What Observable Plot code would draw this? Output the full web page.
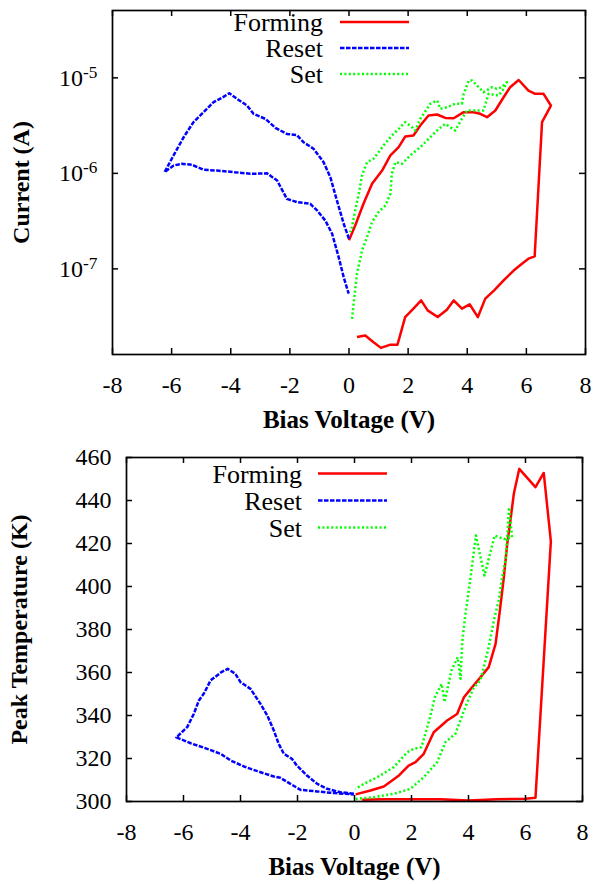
<!DOCTYPE html>
<html><head><meta charset="utf-8">
<script src="https://cdn.jsdelivr.net/npm/d3@7"></script>
<script src="https://cdn.jsdelivr.net/npm/@observablehq/plot@0.6"></script>
<style>
html,body{margin:0;padding:0;background:#fff;}
#chart{width:594px;height:884px;overflow:hidden;background:#fff;}
#chart svg{display:block;}
#chart svg, #chart svg text{font-family:"Liberation Serif","DejaVu Serif",serif !important;}
</style></head><body><div id="chart"></div>
<script>
// ---------- categories, ticks, domains ----------
const seriesNames = ["Forming", "Reset", "Set"];
const xTicks = [-8, -6, -4, -2, 0, 2, 4, 6, 8];
const currentTicks = [1e-7, 1e-6, 1e-5];
const tempTicks = [300, 320, 340, 360, 380, 400, 420, 440, 460];
const voltageDomain = [-8, 8];
const currentDomain = [1.27e-8, 5.07e-5];
const tempDomain = [300, 460];
const xLabelText = "Bias Voltage (V)";
const currentLabelText = "Current (A)";
const tempLabelText = "Peak Temperature (K)";

// ---------- top panel: current vs bias voltage ----------
const formingIV_V = [0.27, 0.55, 0.83, 1.08, 1.40, 1.64, 1.90, 2.18, 2.44, 2.66, 3.00, 3.31, 3.54, 3.82, 4.08, 4.36, 4.61, 4.91, 5.23, 5.57, 5.85, 6.07, 6.28, 6.53, 6.83, 6.58, 6.30, 6.07, 5.74, 5.45, 5.23, 4.95, 4.67, 4.44, 4.21, 3.88, 3.54, 3.26, 2.98, 2.69, 2.41, 2.18, 1.90, 1.68, 1.40, 1.12, 0.78, 0.49, 0.21, 0.00];
const formingIV_I = [1.94e-8, 2.01e-8, 1.71e-8, 1.49e-8, 1.61e-8, 1.61e-8, 3.13e-8, 3.84e-8, 4.68e-8, 3.68e-8, 3.13e-8, 3.74e-8, 4.68e-8, 3.84e-8, 4.26e-8, 3.13e-8, 4.88e-8, 5.96e-8, 7.59e-8, 9.6e-8, 1.13e-7, 1.28e-7, 1.35e-7, 3.44e-6, 5.13e-6, 6.8e-6, 6.8e-6, 7.36e-6, 9.5e-6, 7.98e-6, 6.27e-6, 4.55e-6, 3.87e-6, 4.2e-6, 4.37e-6, 4.37e-6, 3.78e-6, 3.81e-6, 4.13e-6, 4.04e-6, 3.17e-6, 2.49e-6, 2.43e-6, 1.88e-6, 1.54e-6, 1.07e-6, 7.8e-7, 4.8e-7, 2.85e-7, 1.99e-7];

const resetIV_V = [0.00, -0.18, -0.41, -0.63, -0.86, -1.20, -1.54, -1.76, -2.10, -2.49, -2.83, -3.23, -3.45, -3.79, -4.05, -4.30, -4.58, -4.92, -5.26, -5.59, -5.93, -6.24, -5.93, -5.65, -5.31, -4.92, -4.46, -3.90, -3.34, -2.77, -2.43, -2.10, -1.76, -1.31, -1.08, -0.80, -0.57, -0.35, -0.18, -0.01];
const resetIV_I = [2.07e-7, 2.97e-7, 5.21e-7, 9.1e-7, 1.31e-6, 1.81e-6, 2.12e-6, 2.51e-6, 2.59e-6, 3.0e-6, 3.72e-6, 4.2e-6, 5.13e-6, 6.03e-6, 6.9e-6, 6.18e-6, 5.56e-6, 4.37e-6, 3.44e-6, 2.4e-6, 1.55e-6, 1.03e-6, 1.21e-6, 1.26e-6, 1.23e-6, 1.09e-6, 1.07e-6, 1.03e-6, 9.9e-7, 1.0e-6, 8.4e-7, 5.4e-7, 5.0e-7, 4.8e-7, 4.1e-7, 3.2e-7, 2.33e-7, 1.33e-7, 8.2e-8, 5.5e-8];

const setIV_V = [0.10, 0.27, 0.44, 0.61, 0.78, 1.00, 1.23, 1.40, 1.45, 1.57, 1.79, 2.13, 2.41, 2.75, 3.03, 3.26, 3.59, 3.82, 3.99, 4.33, 4.55, 4.72, 5.06, 5.23, 5.34, 5.17, 5.00, 4.84, 4.55, 4.33, 4.16, 4.05, 3.88, 3.82, 3.59, 3.31, 3.09, 2.98, 2.75, 2.41, 2.24, 2.13, 1.90, 1.68, 1.45, 1.17, 0.83, 0.61, 0.44, 0.33, 0.21, 0.10, 0.04];
const setIV_I = [3.0e-8, 8.9e-8, 1.56e-7, 2.15e-7, 3.1e-7, 3.93e-7, 4.61e-7, 6.1e-7, 9.9e-7, 1.31e-6, 1.26e-6, 1.6e-6, 1.88e-6, 2.39e-6, 2.92e-6, 3.3e-6, 2.81e-6, 3.72e-6, 4.55e-6, 4.55e-6, 4.55e-6, 6.8e-6, 6.53e-6, 7.67e-6, 9.0e-6, 7.98e-6, 7.67e-6, 7.98e-6, 7.08e-6, 8.32e-6, 9.38e-6, 9.38e-6, 6.8e-6, 5.35e-6, 5.35e-6, 4.93e-6, 4.74e-6, 5.79e-6, 5.35e-6, 3.72e-6, 2.81e-6, 3.05e-6, 3.44e-6, 2.92e-6, 2.49e-6, 1.96e-6, 1.42e-6, 1.31e-6, 9.5e-7, 6.1e-7, 4.1e-7, 2.73e-7, 2.43e-7];

// ---------- bottom panel: peak temperature vs bias voltage ----------
const formingT_V = [0.27, 1.00, 2.00, 3.00, 4.00, 5.00, 6.00, 6.35, 6.89, 6.64, 6.35, 5.78, 5.59, 5.47, 5.36, 5.24, 5.10, 4.95, 4.71, 4.42, 4.13, 3.84, 3.60, 3.25, 2.78, 2.43, 2.14, 1.90, 1.56, 1.03, 0.56, 0.04];
const formingT_T = [300.8, 301.0, 301.0, 301.0, 300.5, 301.0, 301.3, 301.7, 421.0, 452.8, 446.2, 454.7, 443.1, 430.7, 419.9, 404.3, 388.8, 373.3, 362.5, 357.8, 353.2, 348.5, 340.7, 337.7, 332.2, 322.2, 318.3, 316.7, 312.1, 307.0, 305.1, 303.3];

const resetT_V = [-0.02, -0.49, -0.96, -1.31, -1.67, -2.02, -2.20, -2.48, -2.66, -2.83, -3.06, -3.30, -3.65, -4.00, -4.18, -4.45, -4.68, -5.05, -5.29, -5.46, -5.64, -5.87, -6.25, -5.75, -5.17, -4.70, -4.35, -3.88, -3.41, -2.83, -2.60, -2.25, -1.89, -1.31, -0.72, -0.02];
const resetT_T = [303.6, 304.3, 305.9, 308.2, 312.1, 316.7, 319.9, 322.2, 326.8, 333.0, 340.0, 345.4, 352.4, 355.5, 359.4, 361.7, 360.1, 356.3, 350.1, 347.0, 340.7, 334.6, 329.8, 327.1, 324.5, 322.2, 319.1, 316.3, 314.1, 311.6, 311.0, 308.2, 305.4, 304.7, 303.9, 303.3];

const setT_V = [0.04, 0.68, 1.38, 1.96, 2.43, 2.90, 3.19, 3.54, 3.89, 4.19, 4.42, 4.71, 4.89, 5.06, 5.18, 5.30, 5.36, 5.42, 5.53, 5.24, 4.92, 4.56, 4.26, 4.05, 3.88, 3.78, 3.72, 3.62, 3.40, 3.16, 3.06, 2.82, 2.62, 2.35, 2.08, 1.85, 1.38, 0.80, 0.33, 0.04];
const setT_T = [301.2, 302.0, 303.6, 305.9, 311.3, 318.3, 327.6, 331.5, 343.9, 353.2, 356.3, 371.8, 384.2, 393.5, 404.3, 412.1, 422.9, 436.8, 422.9, 422.1, 423.7, 405.1, 423.7, 402.0, 386.0, 374.0, 357.1, 367.1, 360.9, 346.2, 354.7, 348.5, 337.7, 325.3, 324.5, 322.9, 316.0, 311.3, 308.2, 305.9];

// ---------- styles ----------
const seriesStyle = {
  Forming: {stroke: "#ff0000", dash: null},
  Reset: {stroke: "#0000ff", dash: "4.5,1.5"},
  Set: {stroke: "#00ff00", dash: "2,2.4"}
};
const FONT = "'Liberation Serif', 'DejaVu Serif', serif";

const toRows = (xs, ys) => xs.map((x, i) => ({v: x, y: ys[i]}));

function panel(opts) {
  const {height, m, yType, yDomain, yTicks, yFormat, series, yLabel, yLabelDx, legend} = opts;
  const W = 594;
  const innerW = W - m.left - m.right;
  const innerH = height - m.top - m.bottom;
  const marks = [];
  for (const s of series) {
    const st = seriesStyle[s.name];
    marks.push(Plot.line(s.rows, {x: "v", y: "y", stroke: st.stroke, strokeWidth: 2.5,
      strokeDasharray: st.dash, strokeLinejoin: "round", strokeLinecap: "butt"}));
  }
  marks.push(Plot.frame({stroke: "black", strokeWidth: 1.7}));
  marks.push(Plot.tickX(xTicks, {x: d => d, insetTop: innerH - 6, stroke: "black", strokeWidth: 1.5}));
  marks.push(Plot.tickX(xTicks, {x: d => d, insetBottom: innerH - 6, stroke: "black", strokeWidth: 1.5}));
  marks.push(Plot.tickY(yTicks, {y: d => d, insetRight: innerW - 6, stroke: "black", strokeWidth: 1.5}));
  marks.push(Plot.tickY(yTicks, {y: d => d, insetLeft: innerW - 6, stroke: "black", strokeWidth: 1.5}));
  marks.push(Plot.axisX(xTicks, {anchor: "bottom", tickSize: 0, tickPadding: 21, tickFormat: d => String(d),
    fontSize: 24, label: null}));
  marks.push(Plot.axisY(yTicks, {anchor: "left", tickSize: 0, tickPadding: 15, tickFormat: yFormat,
    fontSize: 24, label: null}));
  marks.push(Plot.text([xLabelText], {text: d => d, frameAnchor: "bottom", dy: 56, lineAnchor: "top",
    fontWeight: "bold", fontSize: 25}));
  marks.push(Plot.text([yLabel], {text: d => d, frameAnchor: "left", rotate: -90, dx: yLabelDx,
    textAnchor: "middle", lineAnchor: "middle", fontWeight: "bold", fontSize: 24}));

  const svg = Plot.plot({
    width: W, height,
    marginTop: m.top, marginRight: m.right, marginBottom: m.bottom, marginLeft: m.left,
    style: {fontFamily: FONT, fontSize: "24px", color: "black", background: "white", overflow: "visible"},
    x: {domain: voltageDomain, label: null},
    y: {type: yType, domain: yDomain, label: null},
    marks
  });

  // legend (gnuplot style: right-aligned key text followed by a line sample)
  const g = d3.select(svg).append("g").attr("font-size", legend.fontSize).attr("fill", "black");
  legend.rows.forEach((name, i) => {
    const y = m.top + legend.y0 + i * legend.dy;
    const st = seriesStyle[name];
    g.append("text").attr("x", m.left + legend.textRight).attr("y", y + 9).attr("text-anchor", "end").text(name);
    g.append("line").attr("x1", m.left + legend.line1).attr("x2", m.left + legend.line2)
      .attr("y1", y).attr("y2", y).attr("stroke", st.stroke).attr("stroke-width", 2.5)
      .attr("stroke-dasharray", st.dash);
  });
  return svg;
}

const topSvg = panel({
  height: 440, m: {top: 10, right: 9, bottom: 86, left: 112},
  yType: "log", yDomain: currentDomain, yTicks: currentTicks,
  yFormat: d => String(Math.round(Math.log10(d))),
  series: [
    {name: "Forming", rows: toRows(formingIV_V, formingIV_I)},
    {name: "Reset", rows: toRows(resetIV_V, resetIV_I)},
    {name: "Set", rows: toRows(setIV_V, setIV_I)}
  ],
  yLabel: currentLabelText, yLabelDx: -91,
  legend: {rows: seriesNames, fontSize: 26, textRight: 211, line1: 228, line2: 297, y0: 12, dy: 26}
});

// powers of ten with a raised exponent
d3.select(topSvg).selectAll('g[aria-label="y-axis tick label"] text').each(function () {
  const e = this.textContent;
  this.textContent = "";
  const t = d3.select(this);
  t.append("tspan").text("10");
  t.append("tspan").attr("dy", "-0.45em").attr("font-size", "0.72em").text(e);
});

const botSvg = panel({
  height: 444, m: {top: 17, right: 12, bottom: 83, left: 126},
  yType: "linear", yDomain: tempDomain, yTicks: tempTicks,
  yFormat: d => String(d),
  series: [
    {name: "Forming", rows: toRows(formingT_V, formingT_T)},
    {name: "Reset", rows: toRows(resetT_V, resetT_T)},
    {name: "Set", rows: toRows(setT_V, setT_T)}
  ],
  yLabel: tempLabelText, yLabelDx: -107,
  legend: {rows: seriesNames, fontSize: 26, textRight: 176, line1: 192, line2: 261, y0: 16.5, dy: 27}
});

const chart = document.getElementById("chart");
chart.appendChild(topSvg);
chart.appendChild(botSvg);
</script></body></html>
